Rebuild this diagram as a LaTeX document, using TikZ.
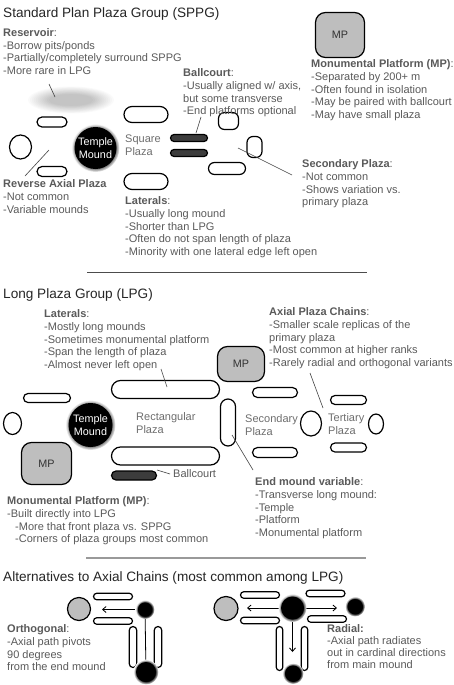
\documentclass[tikz,border=0pt]{standalone}
\usepackage{fontspec}
\setmainfont{Liberation Sans}
\usetikzlibrary{shapes.geometric,arrows.meta}
\definecolor{txtgray}{HTML}{5A5A5A}
\definecolor{titlegray}{HTML}{262626}
\definecolor{plazagray}{HTML}{6E6E6E}
\definecolor{mpgray}{HTML}{BEBEBE}
\definecolor{bcdark}{HTML}{3C3C3C}
\definecolor{leadgray}{HTML}{444444}
\pgfdeclareradialshading{glow}{\pgfpoint{0bp}{0bp}}{color(0bp)=(black); color(18bp)=(black); color(25bp)=(white); color(50bp)=(white)}
\newcommand\st{\rule{0pt}{10.5pt}}
\tikzset{
  mound/.style={draw=black, line width=1.2pt, fill=white, rectangle, inner sep=0pt},
  court/.style={mound, fill=bcdark},
  plat/.style={mound, fill=mpgray, text=black!80, font=\fontsize{10.8}{13}\selectfont},
  oval/.style={draw=black, line width=1.2pt, fill=white, ellipse, inner sep=0pt},
  graycirc/.style={draw=black, line width=1.2pt, fill=mpgray, circle, inner sep=0pt},
  blackcirc/.style={fill=black, circle, inner sep=0pt},
  temple/.style={blackcirc, text=white, align=center, font=\fontsize{10.8}{12.5}\selectfont},
  txt/.style={font=\fontsize{11}{12.9}\selectfont, text=txtgray, align=left, anchor=north west, inner sep=0pt},
  plz/.style={txt, text=plazagray, font=\fontsize{11}{13.2}\selectfont},
  ttl/.style={font=\fontsize{13.6}{16}\selectfont, text=titlegray, anchor=base west, inner sep=0pt},
  lead/.style={draw=leadgray, line width=0.6pt},
  divider/.style={draw=#1, line width=1pt},
  axarrow/.style={draw=black, line width=0.8pt, -{Straight Barb[length=3.5pt,width=6pt]}},
  axline/.style={draw=black, line width=0.8pt}
}
% #1 style, #2 name, #3 position, #4 width, #5 height, #6 corner radius
\newcommand\mnd[6][mound]{\node[#1, minimum width=#4, minimum height=#5, rounded corners=#6] (#2) at #3 {};}
\newcommand\glowat[2]{\shade[shading=glow] #1 circle ({#2+3});}
\begin{document}
\begin{tikzpicture}[x=1pt,y=-1pt]
\useasboundingbox[fill=white] (0,0) rectangle (453,685);

%================ SECTION 1: SPPG =================
\node[ttl] (t1) at (3,18) {Standard Plan Plaza Group (SPPG)};

% reservoir blur
\foreach \i in {0,...,11}
  \fill[black, opacity=0.021] (71,100) ellipse ({43-\i*1.9} and {13.5-\i*0.7});

\mnd{rbar1}{(52,122)}{30}{10}{5}
\mnd{rbar2}{(52,171.5)}{30}{10}{5}
\node[oval, minimum width=22, minimum height=24] (lell1) at (20.5,147) {};
\glowat{(95.5,148)}{21}
\node[temple, minimum size=42] (tm1) at (95.5,148) {Temple\\Mound};
\mnd{lat1T}{(146,114.5)}{44}{16}{8}
\mnd{lat1B}{(146,181.5)}{44}{16}{8}
\mnd[court]{bc1}{(189,138)}{37}{7}{3.5}
\mnd[court]{bc2}{(189,153)}{37}{7}{3.5}
\mnd{sq1}{(228.5,121)}{20}{17}{6}
\mnd{sq2}{(254.5,147)}{15}{21}{6}
\mnd{sbar1}{(227,168.5)}{37}{12}{6}
\node[plat, minimum width=49, minimum height=45, rounded corners=10] (mp1) at (340,35) {MP};

% texts
\node[txt] (res) at (3,25.5) {\st\textbf{Reservoir}:\\-Borrow pits/ponds\\-Partially/completely surround SPPG\\-More rare in LPG};
\node[txt] (rev) at (3,176.5) {\st\textbf{Reverse Axial Plaza}\\-Not common\\-Variable mounds};
\node[txt] (bct) at (183,65.5) {\st\textbf{Ballcourt}:\\-Usually aligned w/ axis,\\but some transverse\\-End platforms optional};
\node[txt] (mpt) at (311,56.5) {\st\textbf{Monumental Platform (MP)}:\\-Separated by 200+ m\\-Often found in isolation\\-May be paired with ballcourt\\-May have small plaza};
\node[txt] (sect) at (302,156.5) {\st\textbf{Secondary Plaza}:\\-Not common\\-Shows variation vs.\\primary plaza};
\node[plz] (sqp) at (125,131.5) {\st Square\\Plaza};
\node[txt] (lat1t) at (125,193.5) {\st\textbf{Laterals}:\\-Usually long mound\\-Shorter than LPG\\-Often do not span length of plaza\\-Minority with one lateral edge left open};

% leader lines
\coordinate (l1a) at (49,84);   \coordinate (l1b) at (55,97);
\coordinate (l2a) at (25,176);  \coordinate (l2b) at (49,150);
\coordinate (l3a) at (201,117); \coordinate (l3b) at (196,133);
\coordinate (l4a) at (238,148); \coordinate (l4b) at (292,175);
\draw[lead] (l1a) -- (l1b);
\draw[lead] (l2a) -- (l2b);
\draw[lead] (l3a) -- (l3b);
\draw[lead] (l4a) -- (l4b);

\coordinate (d1a) at (87,272); \coordinate (d1b) at (367,272);
\draw[divider=black!70] (d1a) -- (d1b);

%================ SECTION 2: LPG =================
\node[ttl] (t2) at (3,298) {Long Plaza Group (LPG)};

\mnd{lat2T}{(165.5,389.5)}{108}{18}{9}
\mnd{lat2B}{(165.5,456)}{108}{18}{9}
\mnd{lbar}{(47,398)}{47}{9}{4.5}
\node[oval, minimum width=18, minimum height=22] (lell2) at (12.5,423.5) {};
\glowat{(90.5,425)}{22}
\node[temple, minimum size=44] (tm2) at (90.5,425) {Temple\\Mound};
\node[plat, minimum width=50, minimum height=42, rounded corners=10] (mp2) at (46.5,463.5) {MP};
\mnd[court]{bc3}{(134,475.5)}{45}{9}{4.5}
\node[plat, minimum width=47, minimum height=35, rounded corners=10] (mp3) at (241,364) {MP};
\mnd{endm}{(228,422.5)}{15}{47}{7.5}
\mnd{sbarT}{(275,392.5)}{45}{10}{5}
\mnd{sbarB}{(275,452.5)}{45}{10}{5}
\node[oval, minimum width=21, minimum height=25] (scirc) at (311,423.5) {};
\mnd{tbarT}{(348.5,400)}{36}{9}{4.5}
\mnd{tbarB}{(348.5,447.5)}{36}{9}{4.5}
\node[oval, minimum width=15, minimum height=20] (tcirc) at (376,424) {};

\node[txt] (lat2t) at (44,306.5) {\st\textbf{Laterals}:\\-Mostly long mounds\\-Sometimes monumental platform\\-Span the length of plaza\\-Almost never left open};
\node[txt] (axc) at (269,304.5) {\st\textbf{Axial Plaza Chains}:\\-Smaller scale replicas of the\\primary plaza\\-Most common at higher ranks\\-Rarely radial and orthogonal variants};
\node[plz] (rectp) at (136,409.5) {\st Rectangular\\Plaza};
\node[plz] (secp) at (245,411.5) {\st Secondary\\Plaza};
\node[plz] (terp) at (328,410.5) {\st Tertiary\\Plaza};
\node[txt, anchor=base west] (bcl) at (173,477) {Ballcourt};
\node[txt] (mp2t) at (7,493.5) {\st\textbf{Monumental Platform (MP)}:\\-Built directly into LPG\\\hspace*{8pt}-More that front plaza vs. SPPG\\\hspace*{8pt}-Corners of plaza groups most common};
\node[txt] (endt) at (255,474.5) {\st\textbf{End mound variable}:\\-Transverse long mound:\\-Temple\\-Platform\\-Monumental platform};

\coordinate (l5a) at (161,369); \coordinate (l5b) at (167,387);
\coordinate (l6a) at (310,373); \coordinate (l6b) at (323,408);
\coordinate (l7a) at (232,435); \coordinate (l7b) at (253,470);
\coordinate (l8a) at (157,470); \coordinate (l8b) at (170,474);
\draw[lead] (l5a) -- (l5b);
\draw[lead] (l6a) -- (l6b);
\draw[lead] (l7a) -- (l7b);
\draw[lead] (l8a) -- (l8b);

\coordinate (d2a) at (86,558); \coordinate (d2b) at (366,558);
\draw[divider=black!40, line width=1.5pt] (d2a) -- (d2b);

%================ SECTION 3: Alternatives =================
\node[ttl] (t3) at (3,581) {Alternatives to Axial Chains (most common among LPG)};

% orthogonal
\node[graycirc, minimum size=23] (og) at (79,609) {};
\mnd{obT}{(113,596.5)}{39}{6.5}{3.25}
\mnd{obB}{(113,621)}{39}{6.5}{3.25}
\mnd{ovL}{(133,647)}{7.5}{41}{3.75}
\mnd{ovR}{(158,647)}{7.5}{41}{3.75}
\coordinate (oarr) at (102,609.5);
\node[blackcirc, minimum size=16] (ok1) at (145,609.5) {};
\node[blackcirc, minimum size=22] (ok2) at (146,672) {};
\draw[axline] (ok1.center) -- (ok2.center);
\draw[axarrow] (ok1.center) -- (oarr);
\glowat{(145,609.5)}{6.5}
\glowat{(146,672)}{9.5}
\node[blackcirc, minimum size=14] (ok1b) at (145,609.5) {};
\node[blackcirc, minimum size=20] (ok2b) at (146,672) {};

% radial
\node[graycirc, minimum size=24] (rg) at (226,608.5) {};
\mnd{rbTL}{(260,595)}{39}{6.5}{3.25}
\mnd{rbBL}{(260,620.5)}{39}{6.5}{3.25}
\mnd{rbTR}{(325.5,593.5)}{39}{6.5}{3.25}
\mnd{rbBR}{(327,619)}{39}{6.5}{3.25}
\mnd{rvL}{(279.5,648.5)}{6.5}{44}{3.25}
\mnd{rvR}{(304.5,648.5)}{6.5}{44}{3.25}
\coordinate (rarrL) at (247,608);
\coordinate (rarrR) at (337,608);
\coordinate (rarrD) at (292.5,652);
\draw[axarrow] (292.5,608) -- (rarrL);
\draw[axarrow] (292.5,608) -- (rarrR);
\draw[axarrow] (292.5,608) -- (rarrD);
\glowat{(292.5,608)}{11}
\glowat{(355,606.5)}{7}
\glowat{(293,673.5)}{7.5}
\node[blackcirc, minimum size=23] (rk1) at (292.5,608) {};
\node[blackcirc, minimum size=15] (rk2) at (355,606.5) {};
\node[blackcirc, minimum size=16] (rk3) at (293,673.5) {};

\node[txt] (orth) at (7,621.5) {\st\textbf{Orthogonal}:\\-Axial path pivots\\90 degrees\\from the end mound};
\node[txt, font=\fontsize{11}{12.2}\selectfont] (radt) at (327,621.5) {\st\textbf{Radial:}\\-Axial path radiates\\out in cardinal directions\\from main mound};
\end{tikzpicture}
\end{document}
